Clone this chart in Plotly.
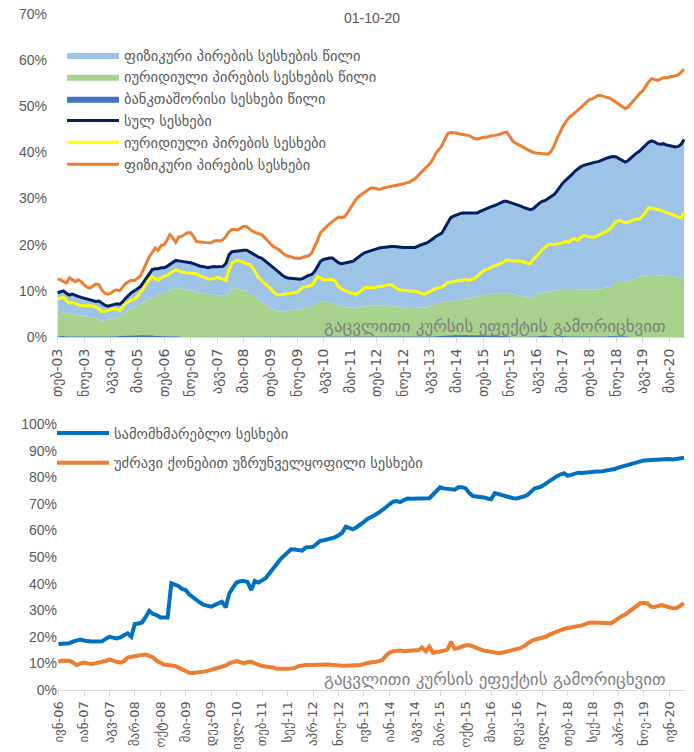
import pandas as pd
import plotly.graph_objects as go

# ---------------- data: top chart (monthly, Feb-2003 .. Oct-2020) ----------------
top_start = "2003-02-01"
top_ticklabels = ["თებ-03", "ნოე-03", "აგვ-04", "მაი-05", "თებ-06", "ნოე-06", "აგვ-07", "მაი-08",
                  "თებ-09", "ნოე-09", "აგვ-10", "მაი-11", "თებ-12", "ნოე-12", "აგვ-13", "მაი-14",
                  "თებ-15", "ნოე-15", "აგვ-16", "მაი-17", "თებ-18", "ნოე-18", "აგვ-19", "მაი-20"]

legal_share = [5.5, 5.4, 5.3, 5.2, 5.2, 5.0, 4.8, 4.7, 4.5, 4.4,
               4.3, 4.2, 4.1, 4.1, 3.8, 3.5, 3.6, 3.8, 4.0, 4.2,
               4.4, 4.5, 5.0, 5.5, 5.9, 6.2, 6.5, 6.9, 7.2, 7.4,
               7.8, 8.3, 8.6, 8.9, 9.1, 9.3, 9.5, 9.8, 10.2, 10.5,
               10.6, 10.5, 10.4, 10.3, 10.2, 10.2, 10.0, 9.8, 9.6, 9.5,
               9.4, 9.3, 9.2, 9.1, 9.1, 9.0, 8.9, 8.9, 9.8, 10.4,
               10.6, 10.6, 10.4, 10.2, 9.9, 9.5, 9.1, 8.6, 8.0, 7.6,
               7.3, 6.8, 6.3, 5.9, 5.6, 5.5, 5.5, 5.6, 5.7, 5.8,
               5.9, 5.9, 6.0, 6.2, 6.3, 6.4, 6.5, 7.0, 7.5, 7.7,
               7.7, 7.6, 7.5, 7.4, 7.1, 6.8, 6.6, 6.5, 6.4, 6.4,
               6.4, 6.4, 6.5, 6.6, 6.7, 6.8, 6.9, 6.9, 6.8, 6.8,
               6.8, 6.8, 6.8, 6.8, 6.7, 6.6, 6.5, 6.4, 6.4, 6.3,
               6.3, 6.3, 6.3, 6.3, 6.3, 6.4, 6.7, 7.0, 7.2, 7.4,
               7.5, 7.6, 7.7, 7.8, 7.9, 7.9, 8.0, 8.0, 8.2, 8.4,
               8.6, 8.7, 8.8, 9.0, 9.1, 9.2, 9.3, 9.4, 9.5, 9.6,
               9.6, 9.5, 9.4, 9.3, 9.2, 9.1, 9.1, 9.0, 8.9, 8.7,
               8.5, 8.6, 9.1, 9.6, 9.7, 9.8, 9.9, 10.0, 10.0, 10.1,
               10.2, 10.2, 10.2, 10.2, 10.2, 10.2, 10.3, 10.3, 10.3, 10.3,
               10.3, 10.3, 10.3, 10.4, 10.5, 10.7, 10.8, 10.9, 11.3, 11.8,
               11.9, 12.0, 12.0, 12.0, 12.2, 12.5, 12.8, 13.1, 13.3, 13.4,
               13.5, 13.5, 13.4, 13.4, 13.3, 13.3, 13.3, 13.2, 13.1, 13.0,
               12.9, 12.8, 12.8]

interbank_share = [0.1, 0.2, 0.2, 0.1, 0.1, 0.1, 0.0, 0.0, 0.0, 0.0,
                   0.0, 0.0, 0.0, 0.0, 0.0, 0.0, 0.0, 0.0, 0.0, 0.0,
                   0.1, 0.2, 0.2, 0.3, 0.3, 0.2, 0.2, 0.3, 0.4, 0.4,
                   0.4, 0.3, 0.3, 0.2, 0.2, 0.1, 0.1, 0.2, 0.2, 0.1,
                   0.1, 0.1, 0.0, 0.0, 0.0, 0.0, 0.0, 0.0, 0.0, 0.0,
                   0.0, 0.0, 0.0, 0.0, 0.0, 0.0, 0.0, 0.0, 0.0, 0.0,
                   0.0, 0.0, 0.0, 0.0, 0.0, 0.0, 0.0, 0.0, 0.0, 0.0,
                   0.0, 0.0, 0.0, 0.0, 0.0, 0.0, 0.0, 0.0, 0.0, 0.0,
                   0.0, 0.0, 0.0, 0.0, 0.0, 0.0, 0.0, 0.0, 0.0, 0.0,
                   0.0, 0.0, 0.0, 0.0, 0.0, 0.0, 0.0, 0.0, 0.0, 0.0,
                   0.0, 0.0, 0.0, 0.0, 0.0, 0.0, 0.0, 0.0, 0.0, 0.0,
                   0.0, 0.0, 0.0, 0.0, 0.0, 0.0, 0.0, 0.0, 0.0, 0.0,
                   0.0, 0.0, 0.0, 0.0, 0.0, 0.0, 0.0, 0.0, 0.1, 0.2,
                   0.2, 0.3, 0.3, 0.3, 0.4, 0.4, 0.4, 0.3, 0.3, 0.3,
                   0.3, 0.4, 0.4, 0.4, 0.4, 0.3, 0.3, 0.4, 0.4, 0.3,
                   0.2, 0.2, 0.1, 0.1, 0.0, 0.0, 0.0, 0.0, 0.0, 0.0,
                   0.0, 0.0, 0.1, 0.2, 0.3, 0.3, 0.2, 0.1, 0.1, 0.1,
                   0.2, 0.2, 0.1, 0.1, 0.1, 0.0, 0.0, 0.0, 0.0, 0.0,
                   0.0, 0.0, 0.0, 0.0, 0.0, 0.1, 0.1, 0.2, 0.2, 0.1,
                   0.1, 0.1, 0.1, 0.1, 0.0, 0.0, 0.0, 0.0, 0.0, 0.0,
                   0.0, 0.0, 0.0, 0.0, 0.0, 0.0, 0.0, 0.0, 0.0, 0.0,
                   0.0, 0.0, 0.0]

total_loans = [9.6, 9.8, 10.0, 9.5, 9.1, 9.3, 9.0, 8.8, 8.6, 8.4,
               8.2, 8.0, 7.9, 7.7, 7.8, 7.3, 6.9, 6.7, 6.9, 7.1,
               7.2, 7.1, 7.6, 8.4, 9.1, 9.6, 10.0, 10.4, 10.9, 11.8,
               12.8, 13.8, 14.6, 14.8, 14.8, 15.0, 15.0, 15.3, 15.7, 16.2,
               16.6, 16.5, 16.4, 16.4, 16.2, 16.1, 15.9, 15.6, 15.4, 15.3,
               15.1, 15.0, 15.2, 15.3, 15.2, 15.3, 15.3, 16.0, 17.8, 18.5,
               18.6, 18.6, 18.7, 18.8, 18.8, 18.5, 18.1, 17.7, 17.3, 17.1,
               16.6, 16.1, 15.6, 15.1, 14.6, 14.0, 13.4, 13.0, 12.8, 12.7,
               12.6, 12.5, 12.5, 12.7, 13.1, 13.4, 13.5, 14.2, 15.3, 16.4,
               16.8, 17.0, 17.1, 17.1, 16.7, 16.1, 15.9, 16.0, 16.2, 16.3,
               16.4, 16.9, 17.5, 17.9, 18.3, 18.5, 18.8, 18.9, 19.1, 19.3,
               19.4, 19.5, 19.6, 19.6, 19.6, 19.5, 19.4, 19.4, 19.4, 19.4,
               19.3, 19.4, 19.7, 20.0, 20.2, 20.4, 20.8, 21.3, 21.8, 22.2,
               22.5, 23.6, 24.8, 25.8, 26.2, 26.5, 26.7, 26.9, 26.9, 26.8,
               26.8, 26.9, 26.9, 27.2, 27.5, 27.8, 28.0, 28.3, 28.5, 28.8,
               29.1, 29.4, 29.4, 29.2, 29.0, 28.8, 28.5, 28.3, 28.0, 27.8,
               27.6, 27.8, 28.5, 29.0, 29.4, 29.6, 30.0, 30.5, 30.9, 31.6,
               32.5, 33.4, 34.0, 34.5, 35.2, 35.9, 36.5, 36.9, 37.2, 37.4,
               37.6, 37.7, 37.9, 38.0, 38.3, 38.6, 38.8, 39.0, 39.1, 39.0,
               38.6, 38.2, 37.9, 38.2, 38.8, 39.4, 39.9, 40.3, 40.9, 41.6,
               42.2, 42.5, 42.3, 41.9, 41.8, 41.9, 41.6, 41.5, 41.3, 41.2,
               41.3, 41.8, 42.8]

legal_loans = [8.2, 8.4, 8.6, 7.9, 7.3, 7.5, 7.2, 7.0, 6.8, 6.7,
               6.7, 6.8, 6.7, 6.5, 6.1, 5.5, 5.6, 5.7, 5.9, 6.1,
               6.0, 5.7, 6.5, 7.3, 7.7, 8.0, 8.2, 8.8, 9.5, 10.4,
               11.5, 12.5, 13.1, 12.6, 12.4, 12.9, 13.2, 13.3, 13.8, 14.3,
               14.6, 14.4, 14.1, 14.0, 13.9, 13.9, 13.8, 13.7, 13.3, 13.0,
               12.8, 12.6, 12.5, 12.7, 12.9, 12.7, 12.5, 12.3, 14.5, 16.0,
               16.4, 16.6, 16.4, 16.1, 15.9, 15.7, 15.0, 14.0, 12.8, 12.2,
               11.7, 11.2, 10.5, 9.8, 9.3, 9.1, 9.2, 9.3, 9.4, 9.5,
               9.6, 9.7, 10.2, 10.8, 10.9, 11.0, 11.2, 12.0, 13.1, 12.8,
               12.4, 12.4, 12.5, 12.5, 12.0, 11.0, 10.4, 10.1, 9.8, 9.6,
               9.4, 9.3, 9.6, 10.2, 10.7, 10.8, 10.7, 10.6, 10.8, 11.0,
               11.0, 11.2, 11.3, 11.3, 10.8, 10.4, 10.2, 10.1, 10.0, 10.0,
               9.9, 9.9, 9.7, 9.5, 9.3, 9.5, 9.8, 10.2, 10.5, 10.6,
               10.8, 11.3, 11.8, 11.8, 12.0, 12.2, 12.2, 12.3, 12.4, 12.3,
               12.4, 12.6, 13.2, 13.8, 14.3, 14.6, 14.8, 15.2, 15.5, 15.7,
               15.9, 16.3, 16.7, 16.6, 16.5, 16.4, 16.5, 16.4, 16.2, 16.0,
               15.9, 16.8, 17.5, 18.2, 18.8, 19.5, 20.0, 20.1, 20.0, 20.1,
               20.2, 20.4, 20.7, 20.5, 21.2, 21.3, 21.0, 21.5, 22.0, 21.8,
               21.7, 21.6, 21.7, 22.0, 22.3, 22.7, 23.0, 23.5, 24.2, 25.0,
               25.3, 25.0, 24.8, 24.8, 25.2, 25.4, 25.5, 25.6, 26.2, 27.2,
               28.0, 27.9, 27.7, 27.6, 27.5, 27.2, 27.0, 26.8, 26.5, 26.3,
               26.0, 25.8, 27.0]

physical_loans = [12.6, 12.4, 12.0, 11.7, 12.8, 12.4, 12.0, 12.4, 12.0, 11.3,
                  10.8, 10.6, 11.0, 11.5, 11.3, 10.2, 9.5, 9.3, 9.5, 10.0,
                  10.2, 10.0, 10.8, 11.6, 12.0, 12.3, 12.2, 12.8, 13.2, 14.5,
                  16.0, 17.4, 18.3, 19.3, 18.8, 19.8, 20.0, 20.9, 22.2, 21.5,
                  20.5, 21.7, 21.8, 22.2, 22.6, 22.6, 21.8, 20.7, 20.6, 20.6,
                  20.5, 20.4, 20.4, 20.8, 20.9, 20.8, 21.1, 21.8, 22.8, 23.3,
                  23.3, 23.2, 23.6, 24.0, 23.9, 23.4, 22.9, 22.6, 22.4, 22.2,
                  21.6, 21.0, 20.2, 19.6, 19.3, 18.9, 18.3, 17.8, 17.5, 17.4,
                  17.1, 17.0, 17.0, 17.3, 17.5, 17.6, 18.2, 19.5, 21.0, 22.6,
                  23.3, 24.0, 24.5, 25.0, 25.5, 26.0, 25.9, 26.0, 26.8, 27.8,
                  28.8, 29.8, 30.5, 31.0, 31.5, 32.0, 32.3, 32.3, 32.1, 32.0,
                  32.2, 32.4, 32.5, 32.7, 32.8, 32.9, 33.0, 33.2, 33.4, 33.5,
                  34.0, 34.3, 35.0, 35.6, 36.3, 37.0, 37.6, 38.5, 39.8, 40.6,
                  41.4, 42.8, 44.1, 44.3, 44.3, 44.2, 44.0, 43.9, 43.8, 43.7,
                  43.4, 43.0, 42.9, 43.1, 43.3, 43.3, 43.5, 43.6, 43.7, 43.8,
                  44.0, 44.3, 44.4, 43.5, 42.5, 42.0, 41.7, 41.4, 41.0, 40.6,
                  40.3, 40.0, 39.9, 39.8, 39.7, 39.6, 39.6, 40.3, 41.4, 43.0,
                  44.5, 45.6, 46.6, 47.5, 48.0, 48.6, 49.2, 49.8, 50.4, 51.0,
                  51.5, 51.6, 52.0, 52.4, 52.3, 52.1, 52.0, 51.7, 51.3, 50.8,
                  50.3, 49.8, 49.5, 49.8, 50.5, 51.2, 52.0, 52.8, 53.3, 54.3,
                  55.3, 56.0, 55.8, 55.6, 55.9, 56.2, 56.2, 56.3, 56.4, 56.6,
                  56.8, 57.4, 58.0]

# ---------------- data: bottom chart (monthly, Jun-2006 .. Oct-2020) ----------------
bottom_start = "2006-06-01"
bottom_ticklabels = ["ივნ-06", "იან-07", "აგვ-07", "მარ-08", "ოქტ-08", "მაი-09", "დეკ-09", "ივლ-10",
                     "თებ-11", "სექ-11", "აპრ-12", "ნოე-12", "ივნ-13", "იან-14", "აგვ-14", "მარ-15",
                     "ოქტ-15", "მაი-16", "დეკ-16", "ივლ-17", "თებ-18", "სექ-18", "აპრ-19", "ნოე-19",
                     "ივნ-20"]

consumer_loans = [17.3, 17.3, 17.4, 17.6, 18.2, 18.8, 19.0, 18.6, 18.2, 18.2,
                  18.2, 18.3, 18.3, 19.2, 20.0, 19.7, 19.4, 19.8, 20.5, 21.3,
                  20.0, 24.8, 25.0, 25.4, 27.5, 29.8, 28.6, 28.2, 27.3, 27.3,
                  27.3, 40.1, 39.6, 39.1, 38.0, 37.6, 35.9, 34.8, 33.8, 32.8,
                  32.0, 31.8, 31.3, 32.0, 32.8, 33.2, 31.0, 36.3, 38.5, 40.4,
                  40.9, 41.0, 40.6, 37.6, 41.0, 40.4, 41.2, 42.0, 43.8, 45.7,
                  47.3, 49.0, 50.4, 51.8, 52.9, 52.8, 52.6, 52.4, 53.6, 53.8,
                  53.8, 54.9, 56.1, 56.3, 56.6, 57.0, 57.4, 58.2, 59.1, 61.4,
                  61.0, 60.4, 61.2, 62.4, 63.2, 64.3, 64.9, 65.8, 66.6, 67.5,
                  68.6, 69.8, 70.8, 71.0, 70.6, 71.4, 72.0, 71.9, 72.0, 72.0,
                  72.0, 72.1, 72.1, 73.5, 75.0, 76.2, 75.8, 75.6, 75.5, 75.3,
                  76.2, 76.2, 75.8, 74.0, 72.9, 72.8, 72.7, 72.4, 72.0, 71.7,
                  74.0, 73.6, 73.2, 72.8, 72.4, 72.1, 72.0, 72.3, 72.8, 73.3,
                  74.8, 75.8, 76.1, 76.6, 77.6, 78.6, 79.5, 80.3, 81.0, 81.5,
                  80.5, 81.0, 81.4, 81.7, 81.6, 81.8, 81.9, 82.0, 82.1, 82.1,
                  82.3, 82.5, 82.7, 83.1, 83.6, 84.0, 84.4, 84.9, 85.4, 85.8,
                  86.1, 86.3, 86.4, 86.5, 86.5, 86.6, 86.7, 86.8, 86.8, 86.7,
                  86.9, 87.1, 87.3]

mortgage_loans = [10.6, 11.1, 11.0, 11.0, 10.3, 9.4, 9.9, 10.3, 10.0, 9.8,
                  10.0, 10.3, 10.5, 10.9, 11.5, 10.9, 10.6, 10.3, 10.8, 12.2,
                  12.6, 12.7, 13.0, 13.2, 13.3, 12.8, 12.2, 11.0, 10.1, 9.6,
                  9.4, 9.2, 9.0, 8.4, 7.8, 6.9, 6.5, 6.4, 6.5, 6.5,
                  6.9, 7.2, 7.6, 8.1, 8.5, 8.7, 9.2, 10.0, 10.5, 10.9,
                  10.5, 10.0, 10.5, 10.6, 10.0, 9.3, 9.0, 8.8, 8.8, 8.5,
                  8.0, 7.9, 7.9, 8.0, 8.1, 8.3, 9.0, 9.3, 9.4, 9.4,
                  9.5, 9.5, 9.5, 9.6, 9.6, 9.5, 9.3, 9.2, 9.1, 9.1,
                  9.1, 9.1, 9.1, 9.4, 9.8, 10.2, 10.4, 10.5, 10.7, 11.2,
                  12.8, 14.0, 14.6, 14.8, 14.8, 14.6, 14.8, 14.8, 14.9, 14.9,
                  16.0, 14.5, 16.3, 14.0, 14.1, 14.5, 14.8, 15.2, 18.2, 15.5,
                  15.8, 16.3, 16.8, 16.9, 16.4, 15.7, 15.2, 14.8, 14.6, 14.3,
                  14.0, 13.8, 14.0, 14.3, 14.6, 14.8, 15.2, 15.7, 16.5, 17.5,
                  18.4, 18.9, 19.2, 19.7, 20.0, 20.8, 21.4, 22.0, 22.6, 23.0,
                  23.3, 23.5, 23.8, 24.0, 24.3, 24.8, 25.3, 25.4, 25.4, 25.3,
                  25.2, 25.1, 25.1, 26.0, 27.0, 27.8, 28.5, 29.5, 30.6, 31.7,
                  32.6, 32.8, 32.5, 31.3, 31.2, 31.6, 31.9, 31.5, 31.0, 30.7,
                  30.8, 31.8, 32.6]

for arr in (legal_share, interbank_share, total_loans, legal_loans, physical_loans):
    assert len(arr) == 213, len(arr)
for arr in (consumer_loans, mortgage_loans):
    assert len(arr) == 173, len(arr)

top_dates = pd.date_range(top_start, periods=213, freq="MS")
bottom_dates = pd.date_range(bottom_start, periods=173, freq="MS")
top_tickvals = pd.date_range(top_start, periods=len(top_ticklabels), freq="9MS")
bottom_tickvals = pd.date_range(bottom_start, periods=len(bottom_ticklabels), freq="7MS")

# ---------------- figure ----------------
W, H = 694, 752
FONT = "Liberation Sans, DejaVu Sans, sans-serif"
GEO = "DejaVu Sans, sans-serif"
GREY = "#595959"

fig = go.Figure()

# top: areas
fig.add_trace(go.Scatter(x=top_dates, y=legal_share, name="იურიდიული პირების სესხების წილი",
                         mode="lines", line=dict(width=0, color="#A9D18E"), fill="tozeroy",
                         fillcolor="#A9D18E", legend="legend", legendrank=2,
                         xaxis="x", yaxis="y"))
fig.add_trace(go.Scatter(x=top_dates, y=total_loans, name="ფიზიკური პირების სესხების წილი",
                         mode="lines", line=dict(width=0, color="#9DC3E6"), fill="tonexty",
                         fillcolor="#9DC3E6", legend="legend", legendrank=1,
                         xaxis="x", yaxis="y"))
fig.add_trace(go.Scatter(x=top_dates, y=interbank_share, name="ბანკთაშორისი სესხები წილი",
                         mode="lines", line=dict(width=0, color="#4472C4"), fill="tozeroy",
                         fillcolor="#4472C4", legend="legend", legendrank=3,
                         xaxis="x", yaxis="y"))
fig.add_trace(go.Scatter(x=top_dates, y=total_loans, name="სულ სესხები",
                         mode="lines", line=dict(width=3, color="#002060"),
                         legend="legend", legendrank=4, xaxis="x", yaxis="y"))
fig.add_trace(go.Scatter(x=top_dates, y=legal_loans, name="იურიდიული პირების სესხები",
                         mode="lines", line=dict(width=3, color="#FFFF00"),
                         legend="legend", legendrank=5, xaxis="x", yaxis="y"))
fig.add_trace(go.Scatter(x=top_dates, y=physical_loans, name="ფიზიკური პირების სესხები",
                         mode="lines", line=dict(width=3, color="#ED7D31"),
                         legend="legend", legendrank=6, xaxis="x", yaxis="y"))

# bottom: lines
fig.add_trace(go.Scatter(x=bottom_dates, y=consumer_loans, name="სამომხმარებლო სესხები",
                         mode="lines", line=dict(width=4, color="#0070C0"),
                         legend="legend2", legendgroup="b1", xaxis="x2", yaxis="y2"))
fig.add_trace(go.Scatter(x=bottom_dates, y=mortgage_loans, name="უძრავი ქონებით უზრუნველყოფილი სესხები",
                         mode="lines", line=dict(width=4, color="#ED7D31"),
                         legend="legend2", legendgroup="b2", xaxis="x2", yaxis="y2"))

def px_x(p):
    return p / W

def px_y(p):
    return 1 - p / H

xaxis_common = dict(type="date", showgrid=False, zeroline=False, showline=True,
                    linecolor="#D9D9D9", linewidth=1, ticks="outside", ticklen=5,
                    tickcolor="#D9D9D9", tickangle=-90, automargin=False)
yaxis_common = dict(showgrid=False, zeroline=False, showline=False, ticks="",
                    ticksuffix="%", tickmode="linear", tick0=0, dtick=10, automargin=False,
                    tickfont=dict(family=FONT, size=14, color=GREY))

fig.update_layout(
    width=W, height=H,
    margin=dict(l=0, r=0, t=0, b=0, autoexpand=False),
    paper_bgcolor="white", plot_bgcolor="white",
    font=dict(family=FONT, color=GREY),
    showlegend=True,
    xaxis=dict(domain=[px_x(57), px_x(685)], anchor="y",
               range=[pd.Timestamp("2003-01-25"), pd.Timestamp("2020-10-10")],
               tickvals=top_tickvals, ticktext=top_ticklabels,
               tickfont=dict(family=GEO, size=14, color=GREY), **xaxis_common),
    yaxis=dict(domain=[px_y(337), px_y(14)], anchor="free", position=px_x(47),
               range=[0, 70], **yaxis_common),
    xaxis2=dict(domain=[px_x(57), px_x(685)], anchor="y2",
                range=[pd.Timestamp("2006-05-20"), pd.Timestamp("2020-10-10")],
                tickvals=bottom_tickvals, ticktext=bottom_ticklabels,
                tickfont=dict(family=GEO, size=13, color=GREY), **xaxis_common),
    yaxis2=dict(domain=[px_y(690), px_y(424)], anchor="free", position=px_x(57),
                range=[0, 100], **yaxis_common),
    legend=dict(x=px_x(62), y=px_y(39), xanchor="left", yanchor="top",
                bgcolor="rgba(0,0,0,0)", itemwidth=52, traceorder="normal",
                font=dict(family=GEO, size=14.5, color=GREY)),
    legend2=dict(x=px_x(52), y=px_y(417), xanchor="left", yanchor="top",
                 bgcolor="rgba(0,0,0,0)", itemwidth=52, traceorder="grouped",
                 tracegroupgap=8, font=dict(family=GEO, size=14.5, color=GREY)),
    annotations=[
        dict(text="01-10-20", x=px_x(372), y=px_y(18), xref="paper", yref="paper",
             xanchor="center", yanchor="middle", showarrow=False,
             font=dict(family=FONT, size=14, color=GREY)),
        dict(text="გაცვლითი კურსის ეფექტის გამორიცხვით", x=px_x(495), y=px_y(326),
             xref="paper", yref="paper", xanchor="center", yanchor="middle", showarrow=False,
             font=dict(family=GEO, size=17, color="#7F7F7F")),
        dict(text="გაცვლითი კურსის ეფექტის გამორიცხვით", x=px_x(495), y=px_y(679),
             xref="paper", yref="paper", xanchor="center", yanchor="middle", showarrow=False,
             font=dict(family=GEO, size=17, color="#7F7F7F")),
    ],
)

# remove the browser's default 8px page margin so the figure sits at the window's corner
fig.write_html("out.html", config={"displayModeBar": False},
               post_script="document.body.style.margin='0';")
